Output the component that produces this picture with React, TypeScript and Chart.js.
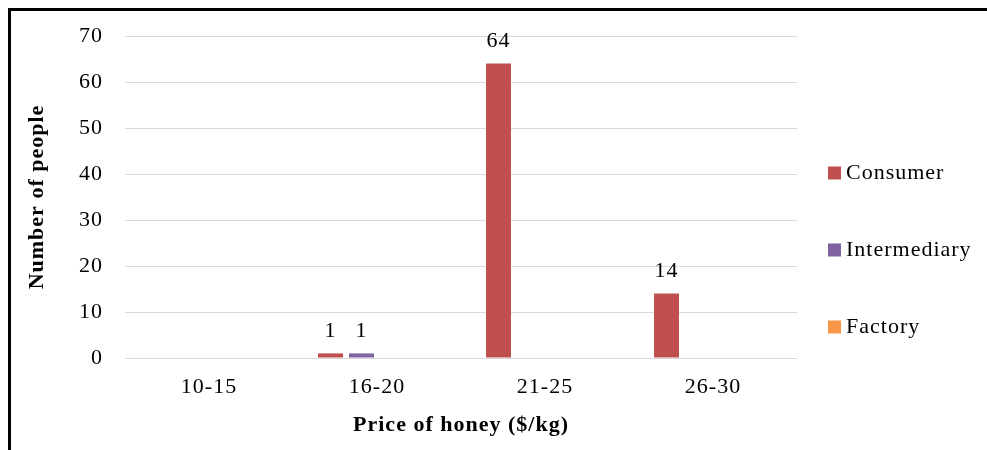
import React, { useEffect, useRef } from "react";
import { Chart, registerables, Plugin } from "chart.js";

Chart.register(...registerables);

const categories = ["10-15", "16-20", "21-25", "26-30"];
const seriesNames = ["Consumer", "Intermediary", "Factory"];
const seriesColors = ["#C0504D", "#8064A2", "#F79646"];
const consumer = [0, 1, 64, 14];
const intermediary = [0, 1, 0, 0];
const factory = [0, 0, 0, 0];
// Fourth, unlabelled slot in each group (kept empty, like the source workbook)
const spare = [0, 0, 0, 0];

const yTicks = { min: 0, max: 70, step: 10 };

const FONT = "'Liberation Serif', 'Times New Roman', serif";
const FONT_SIZE = 22;

const spacingPlugin: Plugin = {
  id: "letterSpacing",
  afterInit(chart) {
    (chart.ctx as any).letterSpacing = "1px";
  },
  beforeUpdate(chart) {
    (chart.ctx as any).letterSpacing = "1px";
  },
  beforeDraw(chart) {
    (chart.ctx as any).letterSpacing = "1px";
  },
};

const valueLabels: Plugin = {
  id: "valueLabels",
  afterDatasetsDraw(chart) {
    const ctx = chart.ctx;
    ctx.save();
    ctx.font = `${FONT_SIZE}px ${FONT}`;
    ctx.fillStyle = "#000";
    ctx.textAlign = "center";
    ctx.textBaseline = "middle";
    chart.data.datasets.forEach((ds, di) => {
      const meta = chart.getDatasetMeta(di);
      meta.data.forEach((el: any, i) => {
        const v = ds.data[i] as number;
        if (v > 0) ctx.fillText(String(v), el.x, el.y - 22);
      });
    });
    ctx.restore();
  },
};

const sideLegend: Plugin = {
  id: "sideLegend",
  afterDraw(chart) {
    const ctx = chart.ctx;
    const area = chart.chartArea;
    ctx.save();
    ctx.font = `${FONT_SIZE}px ${FONT}`;
    ctx.textAlign = "left";
    ctx.textBaseline = "middle";
    seriesNames.forEach((name, i) => {
      const cy = area.top + 137 + 77 * i;
      ctx.fillStyle = seriesColors[i];
      ctx.fillRect(area.right + 31, cy - 6.5, 13, 13);
      ctx.fillStyle = "#000";
      ctx.fillText(name, area.right + 49, cy);
    });
    ctx.restore();
  },
};

export default function App() {
  const canvasRef = useRef<HTMLCanvasElement | null>(null);

  useEffect(() => {
    document.documentElement.style.overflow = "hidden";
    document.body.style.overflow = "hidden";
    const canvas = canvasRef.current;
    if (!canvas) return;
    const chart = new Chart(canvas, {
      type: "bar",
      data: {
        labels: categories,
        datasets: [
          { label: seriesNames[0], data: consumer, backgroundColor: seriesColors[0] },
          { label: seriesNames[1], data: intermediary, backgroundColor: seriesColors[1] },
          { label: seriesNames[2], data: factory, backgroundColor: seriesColors[2] },
          { label: "", data: spare, backgroundColor: "rgba(0,0,0,0)" },
        ],
      },
      options: {
        responsive: false,
        animation: false,
        devicePixelRatio: 1,
        datasets: {
          bar: {
            categoryPercentage: 0.738,
            barPercentage: 0.806,
            borderWidth: 0,
          },
        },
        layout: { padding: { top: 25, right: 190, left: 0, bottom: 0 } },
        plugins: {
          legend: { display: false },
          tooltip: { enabled: false },
        },
        scales: {
          x: {
            grid: { display: false, drawTicks: false },
            border: { display: false },
            ticks: {
              color: "#000",
              padding: 16,
              font: { family: FONT, size: FONT_SIZE, lineHeight: 1.2 },
            },
            title: {
              display: true,
              text: "Price of honey ($/kg)",
              color: "#000",
              padding: { top: 0, bottom: 3 },
              font: { family: FONT, size: FONT_SIZE, weight: "bold", lineHeight: 1.2 },
            },
            afterFit(scale) {
              scale.height = 84;
            },
          },
          y: {
            min: yTicks.min,
            max: yTicks.max,
            grid: { color: "#D9D9D9", lineWidth: 1, drawTicks: false },
            border: { display: false },
            ticks: {
              stepSize: yTicks.step,
              color: "#000",
              padding: 22,
              font: { family: FONT, size: FONT_SIZE, lineHeight: 1.2 },
            },
            title: {
              display: true,
              text: "Number of people",
              color: "#000",
              padding: { top: 13, bottom: 0 },
              font: { family: FONT, size: FONT_SIZE, weight: "bold", lineHeight: 1.2 },
            },
            afterFit(scale: any) {
              scale.width = 114;
              scale.paddingTop = 0;
              scale.paddingBottom = 0;
            },
          },
        },
      },
      plugins: [spacingPlugin, valueLabels, sideLegend],
    });
    return () => chart.destroy();
  }, []);

  return (
    <div
      style={{
        position: "fixed",
        left: 8,
        top: 8,
        width: 979,
        height: 442,
        boxSizing: "border-box",
        borderTop: "3px solid #000",
        borderLeft: "3px solid #000",
        background: "#fff",
        overflow: "hidden",
      }}
    >
      <canvas ref={canvasRef} width={976} height={431} style={{ display: "block" }} />
    </div>
  );
}
